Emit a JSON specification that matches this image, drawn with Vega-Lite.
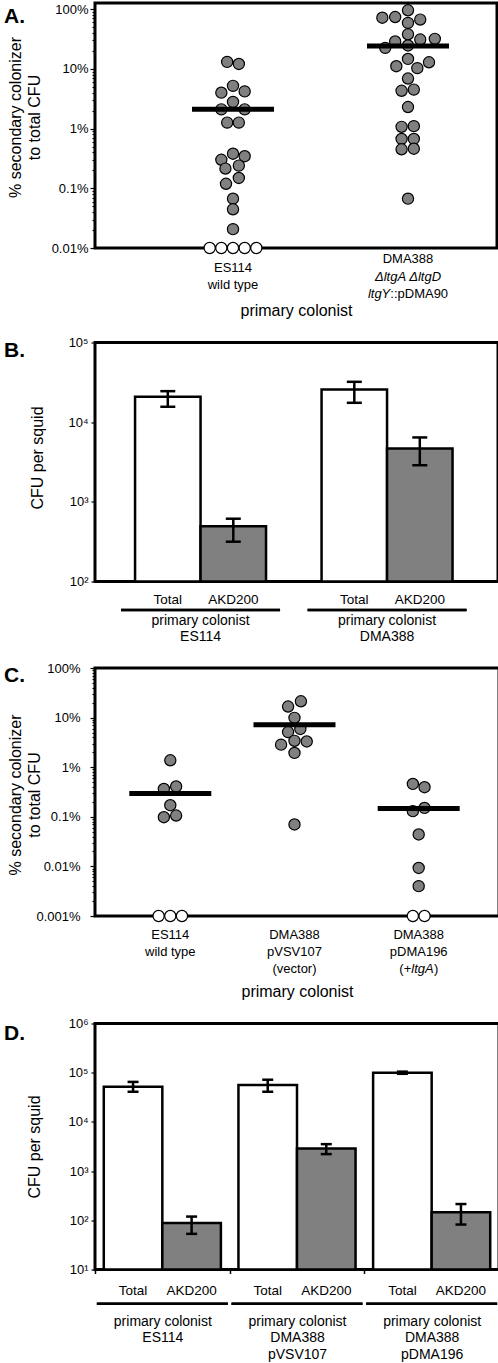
{
  "$schema": "https://vega.github.io/schema/vega-lite/v6.json",
  "padding": {"left": 2, "top": 0, "right": 0, "bottom": 0},
  "columns": 1,
  "bounds": "full",
  "spacing": 14.5,
  "resolve": {"scale": {"fill": "independent"}},
  "config": {
    "font": "Liberation Sans",
    "view": {"stroke": "black", "strokeWidth": 3},
    "axis": {"domain": false, "grid": false, "labelColor": "black", "titleColor": "black", "tickColor": "black", "titleFontWeight": "normal"}
  },
  "datasets": {
    "swarmA": [
      {"group": "ES114", "slot": -0.5, "pct": 13.1, "detected": "yes"},
      {"group": "ES114", "slot": 0.5, "pct": 12.1, "detected": "yes"},
      {"group": "ES114", "slot": 0, "pct": 5.2, "detected": "yes"},
      {"group": "ES114", "slot": -1, "pct": 4.0, "detected": "yes"},
      {"group": "ES114", "slot": 1, "pct": 4.2, "detected": "yes"},
      {"group": "ES114", "slot": 0, "pct": 2.8, "detected": "yes"},
      {"group": "ES114", "slot": -1, "pct": 2.1, "detected": "yes"},
      {"group": "ES114", "slot": 1, "pct": 2.1, "detected": "yes"},
      {"group": "ES114", "slot": -0.5, "pct": 1.26, "detected": "yes"},
      {"group": "ES114", "slot": 0.5, "pct": 1.26, "detected": "yes"},
      {"group": "ES114", "slot": 0, "pct": 0.38, "detected": "yes"},
      {"group": "ES114", "slot": -1, "pct": 0.30, "detected": "yes"},
      {"group": "ES114", "slot": 1, "pct": 0.345, "detected": "yes"},
      {"group": "ES114", "slot": -0.65, "pct": 0.214, "detected": "yes"},
      {"group": "ES114", "slot": 0.5, "pct": 0.24, "detected": "yes"},
      {"group": "ES114", "slot": 0.5, "pct": 0.149, "detected": "yes"},
      {"group": "ES114", "slot": -0.6, "pct": 0.119, "detected": "yes"},
      {"group": "ES114", "slot": 0, "pct": 0.067, "detected": "yes"},
      {"group": "ES114", "slot": 0, "pct": 0.0445, "detected": "yes"},
      {"group": "ES114", "slot": 0, "pct": 0.0207, "detected": "yes"},
      {"group": "ES114", "slot": -2, "pct": 0.01, "detected": "no"},
      {"group": "ES114", "slot": -1, "pct": 0.01, "detected": "no"},
      {"group": "ES114", "slot": 0, "pct": 0.01, "detected": "no"},
      {"group": "ES114", "slot": 1, "pct": 0.01, "detected": "no"},
      {"group": "ES114", "slot": 2, "pct": 0.01, "detected": "no"},
      {"group": "DMA388", "slot": 0, "pct": 96, "detected": "yes"},
      {"group": "DMA388", "slot": -2.2, "pct": 72, "detected": "yes"},
      {"group": "DMA388", "slot": -1.1, "pct": 74, "detected": "yes"},
      {"group": "DMA388", "slot": 1.05, "pct": 67, "detected": "yes"},
      {"group": "DMA388", "slot": 0, "pct": 59, "detected": "yes"},
      {"group": "DMA388", "slot": 0, "pct": 38, "detected": "yes"},
      {"group": "DMA388", "slot": -1.1, "pct": 28.8, "detected": "yes"},
      {"group": "DMA388", "slot": 1.05, "pct": 31, "detected": "yes"},
      {"group": "DMA388", "slot": 2.3, "pct": 31.9, "detected": "yes"},
      {"group": "DMA388", "slot": -1.95, "pct": 22.5, "detected": "yes"},
      {"group": "DMA388", "slot": 0, "pct": 24.7, "detected": "yes"},
      {"group": "DMA388", "slot": 0, "pct": 14.7, "detected": "yes"},
      {"group": "DMA388", "slot": -1.0, "pct": 11.1, "detected": "yes"},
      {"group": "DMA388", "slot": 0.8, "pct": 10.3, "detected": "yes"},
      {"group": "DMA388", "slot": 1.8, "pct": 12.9, "detected": "yes"},
      {"group": "DMA388", "slot": 0, "pct": 6.9, "detected": "yes"},
      {"group": "DMA388", "slot": -0.55, "pct": 4.3, "detected": "yes"},
      {"group": "DMA388", "slot": 0.5, "pct": 4.5, "detected": "yes"},
      {"group": "DMA388", "slot": 0, "pct": 2.3, "detected": "yes"},
      {"group": "DMA388", "slot": -0.55, "pct": 1.07, "detected": "yes"},
      {"group": "DMA388", "slot": 0.5, "pct": 1.1, "detected": "yes"},
      {"group": "DMA388", "slot": -0.55, "pct": 0.67, "detected": "yes"},
      {"group": "DMA388", "slot": 0.5, "pct": 0.67, "detected": "yes"},
      {"group": "DMA388", "slot": -0.55, "pct": 0.45, "detected": "yes"},
      {"group": "DMA388", "slot": 0.5, "pct": 0.46, "detected": "yes"},
      {"group": "DMA388", "slot": 0, "pct": 0.067, "detected": "yes"}
    ],
    "medA": [
      {"group": "ES114", "median": 2.1},
      {"group": "DMA388", "median": 24.3}
    ],
    "swarmC": [
      {"group": "ES114", "slot": 0, "pct": 1.38, "detected": "yes"},
      {"group": "ES114", "slot": -0.55, "pct": 0.365, "detected": "yes"},
      {"group": "ES114", "slot": 0.5, "pct": 0.41, "detected": "yes"},
      {"group": "ES114", "slot": 0, "pct": 0.171, "detected": "yes"},
      {"group": "ES114", "slot": -0.55, "pct": 0.098, "detected": "yes"},
      {"group": "ES114", "slot": 0.5, "pct": 0.106, "detected": "yes"},
      {"group": "ES114", "slot": -1, "pct": 0.001, "detected": "no"},
      {"group": "ES114", "slot": 0, "pct": 0.001, "detected": "no"},
      {"group": "ES114", "slot": 1, "pct": 0.001, "detected": "no"},
      {"group": "pVSV107", "slot": 0.55, "pct": 21.3, "detected": "yes"},
      {"group": "pVSV107", "slot": -0.55, "pct": 16.7, "detected": "yes"},
      {"group": "pVSV107", "slot": 0, "pct": 9.9, "detected": "yes"},
      {"group": "pVSV107", "slot": -0.55, "pct": 5.1, "detected": "yes"},
      {"group": "pVSV107", "slot": 0.5, "pct": 5.9, "detected": "yes"},
      {"group": "pVSV107", "slot": 0, "pct": 3.4, "detected": "yes"},
      {"group": "pVSV107", "slot": -1.15, "pct": 2.85, "detected": "yes"},
      {"group": "pVSV107", "slot": 1.05, "pct": 3.3, "detected": "yes"},
      {"group": "pVSV107", "slot": 0, "pct": 1.94, "detected": "yes"},
      {"group": "pVSV107", "slot": 0, "pct": 0.070, "detected": "yes"},
      {"group": "pDMA196", "slot": -0.5, "pct": 0.46, "detected": "yes"},
      {"group": "pDMA196", "slot": 0.5, "pct": 0.395, "detected": "yes"},
      {"group": "pDMA196", "slot": -0.5, "pct": 0.13, "detected": "yes"},
      {"group": "pDMA196", "slot": 0.5, "pct": 0.151, "detected": "yes"},
      {"group": "pDMA196", "slot": 0, "pct": 0.044, "detected": "yes"},
      {"group": "pDMA196", "slot": 0, "pct": 0.0093, "detected": "yes"},
      {"group": "pDMA196", "slot": 0, "pct": 0.004, "detected": "yes"},
      {"group": "pDMA196", "slot": -0.5, "pct": 0.001, "detected": "no"},
      {"group": "pDMA196", "slot": 0.5, "pct": 0.001, "detected": "no"}
    ],
    "medC": [
      {"group": "ES114", "median": 0.295},
      {"group": "pVSV107", "median": 7.2},
      {"group": "pDMA196", "median": 0.147}
    ],
    "barsB": [
      {"group": "ES114", "series": "Total", "cfu": 20800, "lo": 15600, "hi": 24500},
      {"group": "ES114", "series": "AKD200", "cfu": 495, "lo": 316, "hi": 614},
      {"group": "DMA388", "series": "Total", "cfu": 25700, "lo": 17500, "hi": 32100},
      {"group": "DMA388", "series": "AKD200", "cfu": 4680, "lo": 2880, "hi": 6430}
    ],
    "barsD": [
      {"group": "ES114", "series": "Total", "cfu": 52000, "lo": 41000, "hi": 65000},
      {"group": "ES114", "series": "AKD200", "cfu": 88, "lo": 53, "hi": 119},
      {"group": "pVSV107", "series": "Total", "cfu": 56000, "lo": 41000, "hi": 72000},
      {"group": "pVSV107", "series": "AKD200", "cfu": 2870, "lo": 2215, "hi": 3530},
      {"group": "pDMA196", "series": "Total", "cfu": 100000, "lo": 95000, "hi": 105000},
      {"group": "pDMA196", "series": "AKD200", "cfu": 145, "lo": 82, "hi": 214}
    ]
  },
  "concat": [
    {
      "width": 402,
      "height": 245,
      "layer": [
        {
          "data": {"name": "swarmA"},
          "mark": {"type": "circle", "size": 125, "stroke": "black", "strokeWidth": 1.2, "opacity": 1},
          "encoding": {
            "x": {"field": "group", "type": "nominal", "sort": ["ES114", "DMA388"],
              "scale": {"domain": ["ES114", "DMA388"], "paddingInner": 0, "paddingOuter": 0.1486, "align": 0.971},
              "axis": {"title": "primary colonist", "titleFontSize": 16, "titleY": 62, "titleBaseline": "middle", "labelAngle": 0, "labelFontSize": 13, "labelLineHeight": 16.6, "labelBaseline": "middle", "labelPadding": 19.7, "ticks": false, "tickSize": 0, "labelOverlap": false,
                "labelExpr": "datum.value == 'ES114' ? ['ES114', 'wild type'] : ''"}},
            "xOffset": {"field": "slot", "type": "quantitative", "scale": {"domain": [-7.5, 7.5]}},
            "y": {"field": "pct", "type": "quantitative",
              "scale": {"type": "log", "domain": [0.01, 127], "nice": false},
              "axis": {"title": ["% secondary colonizer", "to total CFU"], "titleFontSize": 16, "titleAngle": -90, "titleX": -80, "titleY": 114, "titleAlign": "center", "titleBaseline": "middle", "titleLineHeight": 19,
                "values": [0.01, 0.02, 0.03, 0.04, 0.05, 0.06, 0.07, 0.08, 0.09, 0.1, 0.2, 0.3, 0.4, 0.5, 0.6, 0.7, 0.8, 0.9, 1, 2, 3, 4, 5, 6, 7, 8, 9, 10, 20, 30, 40, 50, 60, 70, 80, 90, 100],
                "labelExpr": "indexof([0.01, 0.1, 1, 10, 100], datum.value) >= 0 ? datum.value + '%' : ''",
                "labelFontSize": 13, "labelPadding": 2, "labelOverlap": false, "labelBound": false,
                "tickSize": {"condition": {"test": "indexof([0.01, 0.1, 1, 10, 100], datum.value) >= 0", "value": 5}, "value": 3},
                "tickWidth": 1.2}},
            "fill": {"field": "detected", "type": "nominal", "scale": {"domain": ["yes", "no"], "range": ["#808080", "#ffffff"]}, "legend": null}
          }
        },
        {
          "data": {"name": "medA"},
          "mark": {"type": "tick", "orient": "horizontal", "size": 82, "thickness": 5, "color": "black", "opacity": 1},
          "encoding": {
            "x": {"field": "group", "type": "nominal"},
            "y": {"field": "median", "type": "quantitative"}
          }
        },
        {
          "data": {"values": [{"group": "DMA388", "t": "DMA388"}]},
          "mark": {"type": "text", "fontSize": 13, "baseline": "middle", "dy": 10.7, "color": "black"},
          "encoding": {"x": {"field": "group", "type": "nominal"}, "y": {"datum": 0.01}, "text": {"field": "t"}}
        },
        {
          "data": {"values": [{"group": "DMA388", "t": "ΔltgA ΔltgD"}]},
          "mark": {"type": "text", "fontStyle": "italic", "fontSize": 13, "baseline": "middle", "dy": 29, "color": "black"},
          "encoding": {"x": {"field": "group", "type": "nominal"}, "y": {"datum": 0.01}, "text": {"field": "t"}}
        },
        {
          "data": {"values": [{"group": "DMA388", "t": "ltgY"}]},
          "mark": {"type": "text", "fontStyle": "italic", "fontSize": 13, "baseline": "middle", "align": "right", "dx": -17.7, "dy": 45.7, "color": "black"},
          "encoding": {"x": {"field": "group", "type": "nominal"}, "y": {"datum": 0.01}, "text": {"field": "t"}}
        },
        {
          "data": {"values": [{"group": "DMA388", "t": "::pDMA90"}]},
          "mark": {"type": "text", "fontSize": 13, "baseline": "middle", "align": "left", "dx": -17.7, "dy": 45.7, "color": "black"},
          "encoding": {"x": {"field": "group", "type": "nominal"}, "y": {"datum": 0.01}, "text": {"field": "t"}}
        },
        {
          "data": {"values": [{"t": "A."}]},
          "mark": {"type": "text", "fontSize": 21, "fontWeight": "bold", "align": "left", "baseline": "alphabetic", "dx": -229, "dy": 19.7, "color": "black"},
          "encoding": {"x": {"datum": "ES114", "type": "nominal"}, "y": {"datum": 127}, "text": {"field": "t"}}
        }
      ]
    },
    {
      "width": 403,
      "height": 239,
      "data": {"name": "barsB"},
      "layer": [
        {
          "mark": {"type": "bar", "stroke": "black", "strokeWidth": 2.5},
          "encoding": {
            "x": {"field": "group", "type": "nominal", "sort": ["ES114", "DMA388"],
              "scale": {"domain": ["ES114", "DMA388"], "paddingInner": 0, "paddingOuter": 0.0804, "align": 0.41},
              "axis": {"title": null, "labelAngle": 0, "labelFontSize": 14, "labelLineHeight": 16, "labelBaseline": "middle", "labelPadding": 39, "ticks": false, "tickSize": 0, "labelOverlap": false,
                "labelExpr": "datum.value == 'ES114' ? ['primary colonist', 'ES114'] : ['primary colonist', 'DMA388']"}},
            "xOffset": {"field": "series", "type": "nominal", "scale": {"domain": ["Total", "AKD200"], "paddingInner": 0, "paddingOuter": 0.424}},
            "y": {"field": "cfu", "type": "quantitative",
              "scale": {"type": "log", "domain": [100, 100000], "nice": false},
              "axis": {"title": "CFU per squid", "titleFontSize": 16, "titleAngle": -90, "titleX": -58, "titleY": 115, "titleAlign": "center", "titleBaseline": "middle",
                "values": [100, 1000, 10000, 100000],
                "labelExpr": "'10' + (datum.value == 100 ? '²' : datum.value == 1000 ? '³' : datum.value == 10000 ? '⁴' : '⁵')",
                "labelFontSize": 13, "labelPadding": 3, "tickSize": 4, "tickWidth": 1.2, "labelOverlap": false}},
            "y2": {"datum": 100},
            "fill": {"field": "series", "type": "nominal", "scale": {"domain": ["Total", "AKD200"], "range": ["#ffffff", "#808080"]}, "legend": null}
          }
        },
        {
          "mark": {"type": "rule", "strokeWidth": 2.5, "color": "black"},
          "encoding": {
            "x": {"field": "group", "type": "nominal"},
            "xOffset": {"field": "series", "type": "nominal"},
            "y": {"field": "lo", "type": "quantitative"},
            "y2": {"field": "hi"}
          }
        },
        {
          "transform": [{"fold": ["lo", "hi"], "as": ["end", "bound"]}],
          "mark": {"type": "tick", "orient": "horizontal", "size": 15, "thickness": 2.5, "color": "black", "opacity": 1},
          "encoding": {
            "x": {"field": "group", "type": "nominal"},
            "xOffset": {"field": "series", "type": "nominal"},
            "y": {"field": "bound", "type": "quantitative"}
          }
        },
        {
          "mark": {"type": "text", "fontSize": 13.5, "baseline": "middle", "dy": 18, "color": "black"},
          "encoding": {
            "x": {"field": "group", "type": "nominal"},
            "xOffset": {"field": "series", "type": "nominal"},
            "y": {"datum": 100},
            "text": {"field": "series"}
          }
        },
        {
          "mark": {"type": "tick", "orient": "horizontal", "size": 159, "thickness": 2.5, "yOffset": 28.5, "color": "black", "opacity": 1},
          "encoding": {
            "x": {"field": "group", "type": "nominal"},
            "y": {"datum": 100}
          }
        },
        {
          "data": {"values": [{"t": "B."}]},
          "mark": {"type": "text", "fontSize": 21, "fontWeight": "bold", "align": "left", "baseline": "alphabetic", "dx": -196.5, "dy": 14.3, "color": "black"},
          "encoding": {"x": {"datum": "ES114", "type": "nominal"}, "y": {"datum": 100000}, "text": {"field": "t"}}
        }
      ]
    },
    {
      "width": 404,
      "height": 248,
      "layer": [
        {
          "data": {"name": "swarmC"},
          "mark": {"type": "circle", "size": 125, "stroke": "black", "strokeWidth": 1.2, "opacity": 1},
          "encoding": {
            "x": {"field": "group", "type": "nominal", "sort": ["ES114", "pVSV107", "pDMA196"],
              "scale": {"domain": ["ES114", "pVSV107", "pDMA196"], "paddingInner": 0, "paddingOuter": 0.1264, "align": 0.42},
              "axis": {"title": "primary colonist", "titleFontSize": 16, "titleY": 75.5, "titleBaseline": "middle", "labelAngle": 0, "labelFontSize": 13, "labelLineHeight": 17, "labelBaseline": "middle", "labelPadding": 18.8, "ticks": false, "tickSize": 0, "labelOverlap": false,
                "labelExpr": "datum.value == 'ES114' ? ['ES114', 'wild type'] : datum.value == 'pVSV107' ? ['DMA388', 'pVSV107', '(vector)'] : ['DMA388', 'pDMA196']"}},
            "xOffset": {"field": "slot", "type": "quantitative", "scale": {"domain": [-5.32, 5.32]}},
            "y": {"field": "pct", "type": "quantitative",
              "scale": {"type": "log", "domain": [0.001, 100], "nice": false},
              "axis": {"title": ["% secondary colonizer", "to total CFU"], "titleFontSize": 16, "titleAngle": -90, "titleX": -80, "titleY": 126.5, "titleAlign": "center", "titleBaseline": "middle", "titleLineHeight": 19,
                "values": [0.001, 0.002, 0.003, 0.004, 0.005, 0.006, 0.007, 0.008, 0.009, 0.01, 0.02, 0.03, 0.04, 0.05, 0.06, 0.07, 0.08, 0.09, 0.1, 0.2, 0.3, 0.4, 0.5, 0.6, 0.7, 0.8, 0.9, 1, 2, 3, 4, 5, 6, 7, 8, 9, 10, 20, 30, 40, 50, 60, 70, 80, 90, 100],
                "labelExpr": "indexof([0.001, 0.01, 0.1, 1, 10, 100], datum.value) >= 0 ? datum.value + '%' : ''",
                "labelFontSize": 13, "labelPadding": 10, "labelOverlap": false, "labelBound": false,
                "tickSize": {"condition": {"test": "indexof([0.001, 0.01, 0.1, 1, 10, 100], datum.value) >= 0", "value": 5}, "value": 3},
                "tickWidth": 1.2}},
            "fill": {"field": "detected", "type": "nominal", "scale": {"domain": ["yes", "no"], "range": ["#808080", "#ffffff"]}, "legend": null}
          }
        },
        {
          "data": {"name": "medC"},
          "mark": {"type": "tick", "orient": "horizontal", "size": 82, "thickness": 5, "color": "black", "opacity": 1},
          "encoding": {
            "x": {"field": "group", "type": "nominal"},
            "y": {"field": "median", "type": "quantitative"}
          }
        },
        {
          "data": {"values": [{"group": "pDMA196", "t": "(+"}]},
          "mark": {"type": "text", "fontSize": 13, "baseline": "middle", "align": "right", "dx": -7.4, "dy": 52.8, "color": "black"},
          "encoding": {"x": {"field": "group", "type": "nominal"}, "y": {"datum": 0.001}, "text": {"field": "t"}}
        },
        {
          "data": {"values": [{"group": "pDMA196", "t": "ltgA"}]},
          "mark": {"type": "text", "fontStyle": "italic", "fontSize": 13, "baseline": "middle", "align": "left", "dx": -7.4, "dy": 52.8, "color": "black"},
          "encoding": {"x": {"field": "group", "type": "nominal"}, "y": {"datum": 0.001}, "text": {"field": "t"}}
        },
        {
          "data": {"values": [{"group": "pDMA196", "t": ")"}]},
          "mark": {"type": "text", "fontSize": 13, "baseline": "middle", "align": "left", "dx": 15.2, "dy": 52.8, "color": "black"},
          "encoding": {"x": {"field": "group", "type": "nominal"}, "y": {"datum": 0.001}, "text": {"field": "t"}}
        },
        {
          "data": {"values": [{"t": "C."}]},
          "mark": {"type": "text", "fontSize": 21, "fontWeight": "bold", "align": "left", "baseline": "alphabetic", "dx": -166.3, "dy": 14.2, "color": "black"},
          "encoding": {"x": {"datum": "ES114", "type": "nominal"}, "y": {"datum": 100}, "text": {"field": "t"}}
        }
      ]
    },
    {
      "width": 404,
      "height": 246,
      "data": {"name": "barsD"},
      "layer": [
        {
          "mark": {"type": "bar", "stroke": "black", "strokeWidth": 2.5},
          "encoding": {
            "x": {"field": "group", "type": "nominal", "sort": ["ES114", "pVSV107", "pDMA196"],
              "scale": {"domain": ["ES114", "pVSV107", "pDMA196"], "paddingInner": 0, "paddingOuter": 0},
              "axis": {"title": null, "labelAngle": 0, "labelFontSize": 14, "labelLineHeight": 16.4, "labelBaseline": "middle", "labelPadding": 48, "ticks": true, "tickBand": "extent", "tickSize": 4, "tickWidth": 1.5, "labelOverlap": false,
                "labelExpr": "datum.value == 'ES114' ? ['primary colonist', 'ES114'] : datum.value == 'pVSV107' ? ['primary colonist', 'DMA388', 'pVSV107'] : datum.value == 'pDMA196' ? ['primary colonist', 'DMA388', 'pDMA196'] : ''"}},
            "xOffset": {"field": "series", "type": "nominal", "scale": {"domain": ["Total", "AKD200"], "paddingInner": 0, "paddingOuter": 0.15}},
            "y": {"field": "cfu", "type": "quantitative",
              "scale": {"type": "log", "domain": [10, 1000000], "nice": false},
              "axis": {"title": "CFU per squid", "titleFontSize": 16, "titleAngle": -90, "titleX": -61, "titleY": 123, "titleAlign": "center", "titleBaseline": "middle",
                "values": [10, 100, 1000, 10000, 100000, 1000000],
                "labelExpr": "'10' + (datum.value == 10 ? '¹' : datum.value == 100 ? '²' : datum.value == 1000 ? '³' : datum.value == 10000 ? '⁴' : datum.value == 100000 ? '⁵' : '⁶')",
                "labelFontSize": 13, "labelPadding": 3, "tickSize": 4, "tickWidth": 1.2, "labelOverlap": false}},
            "y2": {"datum": 10},
            "fill": {"field": "series", "type": "nominal", "scale": {"domain": ["Total", "AKD200"], "range": ["#ffffff", "#808080"]}, "legend": null}
          }
        },
        {
          "mark": {"type": "rule", "strokeWidth": 2.5, "color": "black"},
          "encoding": {
            "x": {"field": "group", "type": "nominal"},
            "xOffset": {"field": "series", "type": "nominal"},
            "y": {"field": "lo", "type": "quantitative"},
            "y2": {"field": "hi"}
          }
        },
        {
          "transform": [{"fold": ["lo", "hi"], "as": ["end", "bound"]}],
          "mark": {"type": "tick", "orient": "horizontal", "size": 11, "thickness": 2.5, "color": "black", "opacity": 1},
          "encoding": {
            "x": {"field": "group", "type": "nominal"},
            "xOffset": {"field": "series", "type": "nominal"},
            "y": {"field": "bound", "type": "quantitative"}
          }
        },
        {
          "mark": {"type": "text", "fontSize": 13.5, "baseline": "middle", "dy": 21.3, "color": "black"},
          "encoding": {
            "x": {"field": "group", "type": "nominal"},
            "xOffset": {"field": "series", "type": "nominal"},
            "y": {"datum": 10},
            "text": {"field": "series"}
          }
        },
        {
          "mark": {"type": "tick", "orient": "horizontal", "size": 131, "thickness": 2.5, "yOffset": 34.3, "color": "black", "opacity": 1},
          "encoding": {
            "x": {"field": "group", "type": "nominal"},
            "y": {"datum": 10}
          }
        },
        {
          "data": {"values": [{"t": "D."}]},
          "mark": {"type": "text", "fontSize": 21, "fontWeight": "bold", "align": "left", "baseline": "alphabetic", "dx": -158.3, "dy": 16.3, "color": "black"},
          "encoding": {"x": {"datum": "ES114", "type": "nominal"}, "y": {"datum": 1000000}, "text": {"field": "t"}}
        }
      ]
    }
  ]
}
